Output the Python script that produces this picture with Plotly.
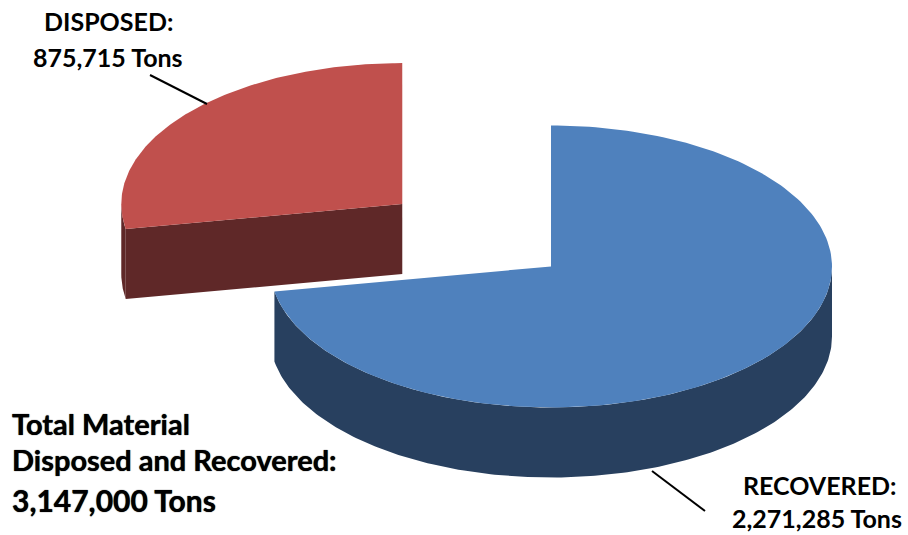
import numpy as np
import plotly.graph_objects as go

# ---- data ----
categories = ["RECOVERED", "DISPOSED"]
values = [2271285, 875715]
label_line1 = ["RECOVERED:", "DISPOSED:"]
label_line2 = ["2,271,285 Tons", "875,715 Tons"]
total_lines = ["Total Material", "Disposed and Recovered:", "3,147,000 Tons"]

top_colors = ["#4F81BD", "#C0504D"]
side_colors = ["#28405F", "#5F2828"]

# ---- 3D pie geometry (pixel-like axes) ----
W, H = 908, 535
CX, CY = 551, 266.5
RX, RY = 281, 141
DEPTH = 70
EXPLODE = [0.0, 0.69]

total = sum(values)
fig = go.Figure()

def arc(cx, cy, a0, a1, n=200, dy=0.0):
    t = np.radians(np.linspace(a0, a1, n))
    return cx + RX * np.cos(t), cy - RY * np.sin(t) + dy

def poly(xs, ys, color):
    fig.add_trace(go.Scatter(x=xs, y=ys, mode="lines", fill="toself",
                             fillcolor=color, line=dict(width=0, color=color),
                             hoverinfo="skip", showlegend=False))

# slice angles: start at 12 o'clock, go clockwise
start = 90.0
slices = []
for v, ex in zip(values, EXPLODE):
    span = 360.0 * v / total
    a0, a1 = start, start - span
    mid = (a0 + a1) / 2
    cx = CX + ex * RX * np.cos(np.radians(mid))
    cy = CY - ex * RY * np.sin(np.radians(mid))
    slices.append((a0, a1, cx, cy))
    start = a1

# draw disposed (back) first, then recovered
for i in [1, 0]:
    a0, a1, cx, cy = slices[i]
    lo, hi = min(a0, a1), max(a0, a1)
    # visible outer wall (front half of ellipse)
    for k in range(-1, 2):
        f0, f1 = 180 + 360 * k, 360 + 360 * k
        s0, s1 = max(lo, f0), min(hi, f1)
        if s1 > s0:
            xt, yt = arc(cx, cy, s0, s1)
            xb, yb = arc(cx, cy, s1, s0, dy=DEPTH)
            poly(np.r_[xt, xb, xt[0]], np.r_[yt, yb, yt[0]], side_colors[i])
    # radial cut faces that face the viewer
    for ang, nrm_deg in ((a1, a1 - 90), (a0, a0 + 90)):
        if np.sin(np.radians(nrm_deg)) < -1e-6:
            ex_ = cx + RX * np.cos(np.radians(ang))
            ey_ = cy - RY * np.sin(np.radians(ang))
            poly([cx, ex_, ex_, cx, cx], [cy, ey_, ey_ + DEPTH, cy + DEPTH, cy], side_colors[i])
    # top face
    xt, yt = arc(cx, cy, a0, a1)
    poly(np.r_[cx, xt, cx], np.r_[cy, yt, cy], top_colors[i])

label_font = dict(family="Lato, 'Open Sans', sans-serif", size=25, color="#000000", weight="bold")

def txt(x, y, s, font, xanchor="center"):
    fig.add_annotation(x=x, y=y, text=s, showarrow=False, font=font,
                       xanchor=xanchor, yanchor="middle")

txt(108, 21, label_line1[1], label_font)
txt(108, 57, label_line2[1], label_font)
txt(819, 485, label_line1[0], label_font)
txt(817, 518, label_line2[0], label_font)

tot_font = dict(family="Lato, sans-serif", size=29, color="#000000", weight="bold",
                shadow="0px 0px 1px #000")
tot_font3 = dict(tot_font, size=30)
txt(10, 423, total_lines[0], tot_font, "left")
txt(10, 459, total_lines[1], tot_font, "left")
txt(10, 500, total_lines[2], tot_font3, "left")

fig.add_shape(type="line", x0=150, y0=75, x1=207, y1=104, line=dict(color="black", width=2))
fig.add_shape(type="line", x0=652, y0=471, x1=705, y1=511, line=dict(color="black", width=2))

fig.update_layout(
    width=W, height=H, autosize=False,
    margin=dict(l=0, r=0, t=0, b=0),
    paper_bgcolor="white", plot_bgcolor="white",
    xaxis=dict(range=[0, W], visible=False, fixedrange=True),
    yaxis=dict(range=[H, 0], visible=False, fixedrange=True),
    showlegend=False,
)
fig.write_html("out.html", config={"displayModeBar": False},
               post_script="document.body.style.margin='0';")
